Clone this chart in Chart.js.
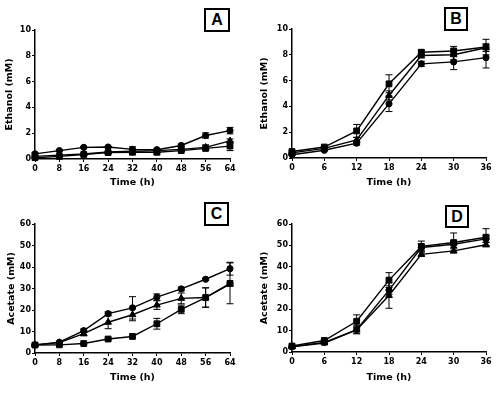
<!DOCTYPE html>
<html>
<head>
<meta charset="utf-8">
<script src="https://cdn.jsdelivr.net/npm/chart.js@4.4.0/dist/chart.umd.min.js"></script>
<style>
  html, body { margin:0; padding:0; background:#fff; }
  #wrap { position:relative; width:500px; height:398px; overflow:hidden; background:#fff; }
  canvas { position:absolute; }
  .tag { position:absolute; box-sizing:border-box; border:2px solid #000; background:#fff;
         font-family:"Liberation Sans", Arial, sans-serif; font-weight:bold; font-size:16px;
         display:flex; align-items:center; justify-content:center; color:#000; }
</style>
</head>
<body>
<div id="wrap">
  <canvas id="cA" width="250" height="198" style="left:0;top:0"></canvas>
  <canvas id="cB" width="250" height="198" style="left:250px;top:0"></canvas>
  <canvas id="cC" width="250" height="200" style="left:0;top:198px"></canvas>
  <canvas id="cD" width="250" height="200" style="left:250px;top:198px"></canvas>
  <div class="tag" style="left:204px;top:8px;width:26px;height:24px">A</div>
  <div class="tag" style="left:444px;top:7px;width:24px;height:24px">B</div>
  <div class="tag" style="left:204px;top:202px;width:25px;height:24px">C</div>
  <div class="tag" style="left:445px;top:205px;width:24px;height:23px">D</div>
</div>
<script>
// ---- Data ----
const timeLong = [0, 8, 16, 24, 32, 40, 48, 56, 64];
const timeShort = [0, 6, 12, 18, 24, 30, 36];

const A_circle = [0.4, 0.65, 0.9, 0.93, 0.75, 0.72, 1.05, 1.82, 2.2];
const A_circleErr = [0.1, 0.05, 0.05, 0.05, 0.2, 0.05, 0.1, 0.2, 0.25];
const A_tri = [0.2, 0.3, 0.4, 0.55, 0.6, 0.65, 0.75, 0.9, 1.4];
const A_triErr = [0.05, 0.05, 0.05, 0.05, 0.1, 0.1, 0.1, 0.2, 0.15];
const A_sq = [0.1, 0.2, 0.35, 0.5, 0.52, 0.52, 0.65, 0.82, 1.0];
const A_sqErr = [0.05, 0.05, 0.05, 0.05, 0.05, 0.15, 0.05, 0.1, 0.35];

const B_circle = [0.25, 0.6, 1.15, 4.2, 7.3, 7.45, 7.78];
const B_circleErr = [0.05, 0.05, 0.15, 0.6, 0.2, 0.6, 0.8];
const B_tri = [0.4, 0.75, 1.4, 4.85, 7.95, 8.0, 8.55];
const B_triErr = [0.05, 0.05, 0.2, 0.35, 0.2, 0.4, 0.3];
const B_sq = [0.5, 0.85, 2.1, 5.75, 8.2, 8.3, 8.6];
const B_sqErr = [0.05, 0.05, 0.5, 0.7, 0.15, 0.35, 0.6];

const C_circle = [3.8, 5.0, 10.4, 18.3, 21.0, 26.0, 29.8, 34.3, 39.2];
const C_circleErr = [0.3, 0.3, 0.8, 0.8, 5.2, 1.5, 0.8, 0.5, 3.0];
const C_tri = [3.8, 4.8, 9.0, 14.3, 17.8, 22.3, 25.4, 25.8, 32.0];
const C_triErr = [0.3, 0.3, 1.0, 3.0, 2.8, 2.0, 2.5, 4.5, 0.5];
const C_sq = [3.7, 3.8, 4.4, 6.5, 7.7, 13.6, 20.3, 25.8, 32.4];
const C_sqErr = [0.3, 0.3, 0.3, 0.5, 0.5, 2.5, 2.0, 4.5, 9.5];

const D_circle = [2.5, 4.5, 10.5, 29.0, 49.0, 50.5, 53.0];
const D_circleErr = [0.3, 0.5, 2.0, 2.0, 1.5, 1.5, 1.5];
const D_tri = [2.4, 4.2, 10.3, 26.5, 45.8, 47.4, 50.3];
const D_triErr = [0.3, 0.4, 1.5, 6.0, 1.0, 1.0, 1.0];
const D_sq = [2.8, 5.4, 14.4, 33.7, 49.5, 51.3, 53.8];
const D_sqErr = [0.5, 0.5, 3.0, 3.5, 2.5, 4.5, 4.0];

const xTitle = 'Time (h)';
const yTitleEthanol = 'Ethanol (mM)';
const yTitleAcetate = 'Acetate (mM)';

// ---- Error bar plugin ----
const errorBars = {
  id: 'errorBars',
  afterDatasetsDraw(chart) {
    const ctx = chart.ctx;
    const xs = chart.scales.x, ys = chart.scales.y;
    ctx.save();
    ctx.strokeStyle = '#000';
    ctx.lineWidth = 1;
    chart.data.datasets.forEach((ds) => {
      if (!ds.errors) return;
      ds.data.forEach((p, j) => {
        const e = ds.errors[j];
        if (!e) return;
        const x = xs.getPixelForValue(p.x);
        const y1 = ys.getPixelForValue(p.y + e);
        const y2 = ys.getPixelForValue(Math.max(p.y - e, 0));
        const cw = 3.5;
        ctx.beginPath();
        ctx.moveTo(x, y1); ctx.lineTo(x, y2);
        ctx.moveTo(x - cw, y1); ctx.lineTo(x + cw, y1);
        if (p.y - e > 0) { ctx.moveTo(x - cw, y2); ctx.lineTo(x + cw, y2); }
        ctx.stroke();
      });
    });
    ctx.restore();
  }
};

function series(times, vals, errs, style, radius) {
  return {
    data: times.map((t, i) => ({ x: t, y: vals[i] })),
    errors: errs,
    borderColor: '#000',
    backgroundColor: '#000',
    borderWidth: 1.4,
    pointStyle: style,
    pointRadius: radius,
    pointBorderWidth: 1,
    pointBackgroundColor: '#000',
    pointBorderColor: '#000',
    tension: 0,
    clip: false
  };
}

const tickFont = { family: '"DejaVu Sans", sans-serif', weight: 'bold', size: 8 };
const titleFont = { family: '"DejaVu Sans", sans-serif', weight: 'bold', size: 9.5 };

function makeChart(id, cfg) {
  new Chart(document.getElementById(id), {
    type: 'line',
    data: { datasets: [
      series(cfg.times, cfg.circle, cfg.circleErr, 'circle', 3.1),
      series(cfg.times, cfg.tri, cfg.triErr, 'triangle', 3.9),
      series(cfg.times, cfg.sq, cfg.sqErr, 'rect', 4.1)
    ]},
    options: {
      responsive: false,
      animation: false,
      devicePixelRatio: 1,
      layout: { padding: { top: cfg.padTop, right: cfg.padRight, left: 0, bottom: 0 } },
      plugins: { legend: { display: false }, tooltip: { enabled: false } },
      scales: {
        x: {
          type: 'linear', min: 0, max: cfg.xMax,
          ticks: { stepSize: cfg.xStep, color: '#000', font: tickFont, padding: 2, maxRotation: 0, minRotation: 0 },
          grid: { drawOnChartArea: false, drawTicks: true, tickLength: 3, color: '#000', lineWidth: 1 },
          border: { display: true, color: '#000', width: 1.5 },
          title: { display: true, text: xTitle, color: '#000', font: titleFont, padding: { top: 0, bottom: cfg.xTitlePad } },
          afterFit: (s) => { s.height = cfg.xHeight; }
        },
        y: {
          min: 0, max: cfg.yMax,
          ticks: { stepSize: cfg.yStep, color: '#000', font: tickFont, padding: 1 },
          grid: { drawOnChartArea: false, drawTicks: true, tickLength: 3, color: '#000', lineWidth: 1 },
          border: { display: true, color: '#000', width: 1.5 },
          title: { display: true, text: cfg.yTitle, color: '#000', font: titleFont, padding: { top: cfg.yTitlePad, bottom: 0 } },
          afterFit: (s) => { s.width = cfg.yWidth; }
        }
      }
    },
    plugins: [errorBars]
  });
}

makeChart('cA', { times: timeLong, circle: A_circle, circleErr: A_circleErr, tri: A_tri, triErr: A_triErr, sq: A_sq, sqErr: A_sqErr,
  xMax: 64, xStep: 8, yMax: 10, yStep: 2, yTitle: yTitleEthanol,
  padTop: 30, padRight: 20, xHeight: 39, yWidth: 35, xTitlePad: 9.6, yTitlePad: 4.3 });
makeChart('cB', { times: timeShort, circle: B_circle, circleErr: B_circleErr, tri: B_tri, triErr: B_triErr, sq: B_sq, sqErr: B_sqErr,
  xMax: 36, xStep: 6, yMax: 10, yStep: 2, yTitle: yTitleEthanol,
  padTop: 29, padRight: 14, xHeight: 40, yWidth: 42, xTitlePad: 9.6, yTitlePad: 9.3 });
makeChart('cC', { times: timeLong, circle: C_circle, circleErr: C_circleErr, tri: C_tri, triErr: C_triErr, sq: C_sq, sqErr: C_sqErr,
  xMax: 64, xStep: 8, yMax: 60, yStep: 10, yTitle: yTitleAcetate,
  padTop: 26, padRight: 20, xHeight: 45, yWidth: 35, xTitlePad: 14.6, yTitlePad: 6 });
makeChart('cD', { times: timeShort, circle: D_circle, circleErr: D_circleErr, tri: D_tri, triErr: D_triErr, sq: D_sq, sqErr: D_sqErr,
  xMax: 36, xStep: 6, yMax: 60, yStep: 10, yTitle: yTitleAcetate,
  padTop: 26, padRight: 14, xHeight: 46, yWidth: 42, xTitlePad: 14.6, yTitlePad: 9.3 });
</script>
</body>
</html>
